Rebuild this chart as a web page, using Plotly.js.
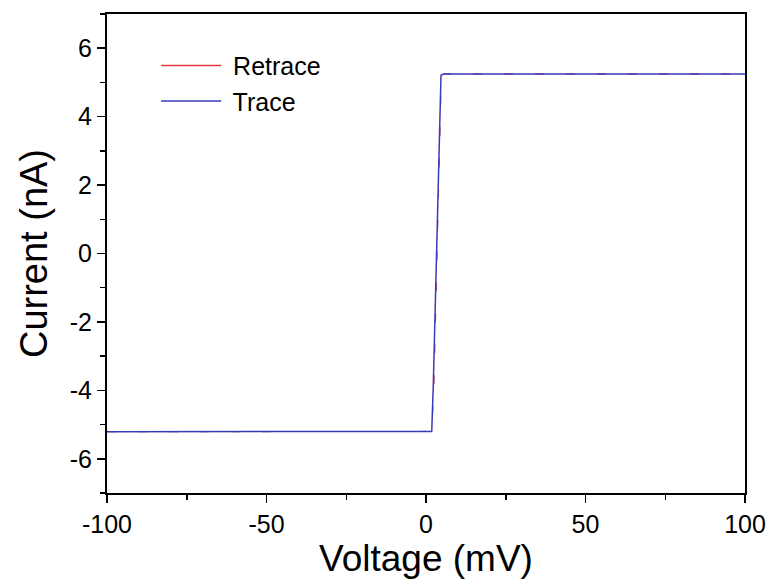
<!DOCTYPE html>
<html>
<head>
<meta charset="utf-8">
<script src="https://cdn.plot.ly/plotly-3.0.1.min.js"></script>
<style>html,body{margin:0;padding:0;background:#fff;}#chart{width:771px;height:579px;}</style>
</head>
<body>
<div id="chart"></div>
<script>
// Trace (forward sweep)
var traceVoltage = [-100, -50, 0, 1.8, 2.3, 2.8, 3.5, 4.2, 4.7, 5.6, 50, 100];
var traceCurrent = [-5.21, -5.21, -5.21, -5.2, -3.8, -1.85, 1.07, 3.7, 5.21, 5.25, 5.25, 5.25];
// Retrace (backward sweep)
var retraceVoltage = [-100, -50, 0, 1.8, 2.5, 3.0, 3.7, 4.4, 4.8, 5.6, 50, 100];
var retraceCurrent = [-5.21, -5.21, -5.21, -5.2, -3.8, -1.85, 1.07, 3.7, 5.21, 5.25, 5.25, 5.25];

var xTickVals = [-100, -50, 0, 50, 100];
var yTickVals = [-6, -4, -2, 0, 2, 4, 6];

var red = '#e0393e';
var blue = '#3a3ab8';
var font = 'Liberation Sans, Arial, sans-serif';

var data = [
  {x: [null], y: [null], type: 'scatter', mode: 'lines', name: ' Retrace',
   line: {color: red, width: 1.5}, hoverinfo: 'skip'},
  {x: retraceVoltage, y: retraceCurrent, type: 'scatter', mode: 'lines', name: 'Retrace',
   showlegend: false, line: {color: '#c0305a', width: 1.1, dash: '9px,22px'}},
  {x: traceVoltage, y: traceCurrent, type: 'scatter', mode: 'lines', name: ' Trace',
   line: {color: blue, width: 1.5}}
];

var axisCommon = {
  showgrid: false, zeroline: false, showline: true, linecolor: '#000', linewidth: 2,
  mirror: true, ticks: 'outside', ticklen: 8, tickwidth: 1.5, tickcolor: '#000',
  tickfont: {family: font, size: 25, color: '#000'}
};

var layout = {
  width: 771, height: 579,
  margin: {l: 107, r: 26, t: 14, b: 86},
  paper_bgcolor: '#fff', plot_bgcolor: '#fff',
  font: {family: font, color: '#000'},
  showlegend: true,
  legend: {x: 0.077, y: 0.94, xanchor: 'left', yanchor: 'top', bgcolor: 'rgba(0,0,0,0)',
           font: {family: font, size: 25, color: '#000'}, itemwidth: 60, tracegroupgap: 0},
  xaxis: Object.assign({}, axisCommon, {
    range: [-100, 100], tickvals: xTickVals, ticktext: xTickVals.map(String),
    minor: {ticks: 'outside', ticklen: 5, tickwidth: 1.5, tickcolor: '#000', dtick: 25, tick0: -100},
    title: {text: 'Voltage (mV)', font: {family: font, size: 37, color: '#000'}, standoff: 10}
  }),
  yaxis: Object.assign({}, axisCommon, {
    range: [-7, 7], tickvals: yTickVals, ticktext: yTickVals.map(String),
    minor: {ticks: 'outside', ticklen: 5, tickwidth: 1.5, tickcolor: '#000', dtick: 1, tick0: -7},
    title: {text: 'Current (nA)', font: {family: font, size: 38, color: '#000'}, standoff: 10}
  })
};

Plotly.newPlot('chart', data, layout, {displayModeBar: false, staticPlot: true});
</script>
</body>
</html>
